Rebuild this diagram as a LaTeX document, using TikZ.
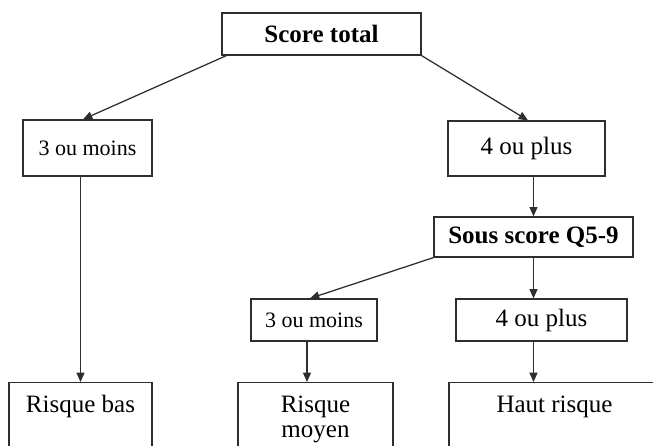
\documentclass[tikz,border=0pt]{standalone}
\usepackage{fontspec}
\setmainfont{Liberation Serif}
\usetikzlibrary{arrows.meta, calc}
\definecolor{cline}{HTML}{2E2E2E}
\tikzset{
  every picture/.style={line width=0.95pt, x=0.75pt, y=-0.75pt},
  box/.style={draw=cline, fill=white, inner sep=0pt, align=center, font=\fontsize{18.75}{19}\selectfont},
  smallbox/.style={box, font=\fontsize{16.5}{19}\selectfont},
  headbox/.style={box, font=\fontsize{18.75}{19}\selectfont\bfseries},
  leafbox/.style={box, anchor=north, text height=22.5pt, text depth=60pt},
  arrow/.style={-{Triangle[length=7pt, width=6pt]}, draw=cline},
}

\begin{document}
\begin{tikzpicture}
  \useasboundingbox (0,0) rectangle (653,446);
  \clip (0,0) rectangle (653,446);
  % first split
  \node[headbox, minimum width=149.25pt, minimum height=31.5pt] (total) at (321.5,34) {Score total};
  \node[smallbox, minimum width=96.75pt, minimum height=42pt] (moins1) at (87.5,148) {3 ou moins};
  \node[box, minimum width=117.75pt, minimum height=41.25pt] (plus1) at (526.5,148.5) {4 ou plus};
  % second split
  \node[headbox, minimum width=149.25pt, minimum height=30pt] (sous) at (533.5,237) {Sous score Q5-9};
  \node[smallbox, minimum width=94.5pt, minimum height=31.5pt] (moins2) at (314,320) {3 ou moins};
  \node[box, minimum width=128.25pt, minimum height=31.5pt] (plus2) at (541.5,320) {4 ou plus};
  % outcomes
  \node[leafbox, minimum width=107.25pt] (bas) at (80.5,382) {Risque bas};
  \node[leafbox, minimum width=116.25pt, text height=41.5pt, text depth=41pt] (moyen) at (315.5,382) {Risque\\moyen};
  \node[leafbox, minimum width=158.25pt] (haut) at (554.5,382) {Haut risque};

  \draw[arrow] ([xshift=3.75pt]total.south west) -- ([xshift=-3.4pt]moins1.north);
  \draw[arrow] (total.south east) -- ([xshift=1.1pt]plus1.north);
  \draw[arrow] (plus1.south -| sous.north) -- (sous.north);
  \draw[arrow] (sous.south west) -- ([xshift=-3pt]moins2.north);
  \draw[arrow] (sous.south) -- (sous.south |- plus2.north);
  \draw[arrow] (moins1.south -| bas.north) -- (bas.north);
  \draw[arrow] ([xshift=-5.25pt]moins2.south) -- ([xshift=-5.25pt]moins2.south |- moyen.north);
  \draw[arrow] (sous.south |- plus2.south) -- (sous.south |- haut.north);
\end{tikzpicture}
\end{document}
